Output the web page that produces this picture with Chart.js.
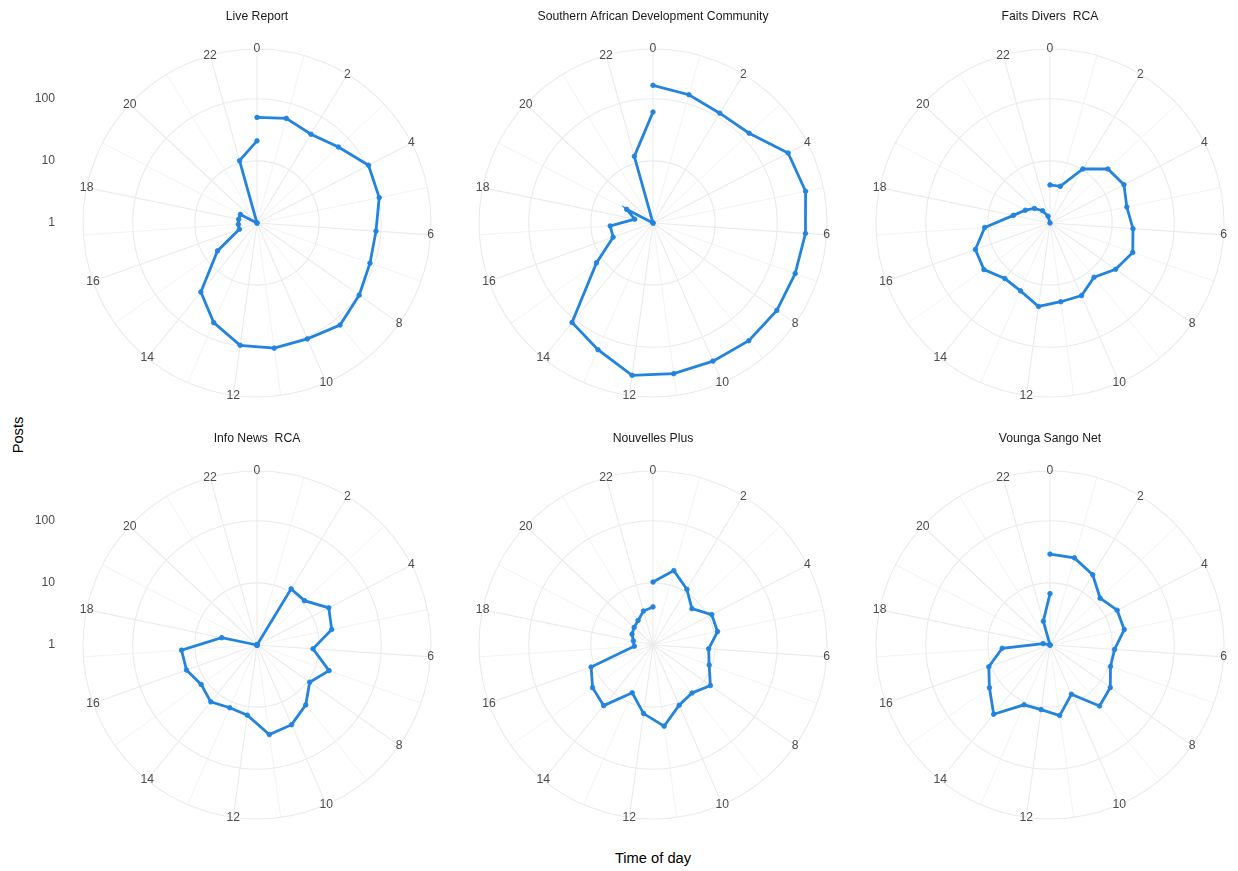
<!DOCTYPE html>
<html>
<head>
<meta charset="utf-8">
<title>Posts by time of day</title>
<script src="https://cdn.jsdelivr.net/npm/chart.js@4.4.1/dist/chart.umd.min.js"></script>
<style>
    html, body { margin: 0; padding: 0; background: #fff; }
    body { width: 1238px; height: 871px; position: relative; overflow: hidden;
           font-family: 'Liberation Sans', Arial, sans-serif; }
    canvas { position: absolute; }
    .axis-title { position: absolute; font-size: 14.7px; color: #000; white-space: nowrap; }
    #y-title { left: 18px; top: 435px; transform: translate(-50%, -50%) rotate(-90deg); }
    #x-title { left: 653px; top: 858px; transform: translate(-50%, -50%); }
</style>
</head>
<body>
<div class="axis-title" id="y-title">Posts</div>
<div class="axis-title" id="x-title">Time of day</div>
<script>
/************************************************************/
/*              POSTS PER HOUR, ONE POLAR PANEL PER PAGE    */
/************************************************************/

// 23 spokes: hours 0..22, hour 23 lands back on the 0 spoke
const HOUR_LABELS = ['0', '1', '2', '3', '4', '5', '6', '7', '8', '9', '10', '11',
                     '12', '13', '14', '15', '16', '17', '18', '19', '20', '21', '22'];
const HOUR_TICKS = ['0', '2', '4', '6', '8', '10', '12', '14', '16', '18', '20', '22'];
const POST_TICKS = [1, 10, 100];

const PANEL_TITLES = [
    'Live Report',
    'Southern African Development Community',
    'Faits Divers  RCA',
    'Info News  RCA',
    'Nouvelles Plus',
    'Vounga Sango Net'
];

// posts for hours 0..23
const LIVE_REPORT    = [50, 56, 47, 62, 105, 102, 83, 85, 103, 131, 108, 108, 97, 56, 27, 6, 2, 2, 2, 2, 1, 1, 11, 21];
const SADC           = [164, 139, 117, 131, 281, 322, 288, 268, 275, 277, 265, 280, 298, 167, 116, 13, 4.8, 4.9, 2, 3, 1, 1, 13, 61];
const FAITS_DIVERS   = [4.1, 4.1, 10.4, 18.8, 21.9, 18.3, 21.8, 25.9, 19.6, 13.3, 18.8, 19, 22.7, 15.5, 14.2, 20, 18.8, 11.3, 4, 2.8, 2.2, 1.7, 1.3, 1];
const INFO_NEWS      = [1, 1, 11.4, 11.1, 20, 16.9, 8, 17, 10.9, 17.5, 25, 28.5, 13.8, 12.6, 15.1, 12.6, 16, 16.5, 3.8, 1, 1, 1, 1, 1];
const NOUVELLES_PLUS = [10.3, 17.5, 11.2, 7.2, 11.6, 11.5, 7.9, 9.1, 13.5, 9.9, 11.4, 20.8, 13, 6.9, 18.1, 15.5, 11.4, 2, 2.1, 2.4, 2.6, 2.9, 3.7, 4.1];
const VOUNGA_SANGO   = [29, 28.6, 21, 12.7, 16.5, 16.6, 11, 10.8, 15.4, 18.4, 7.3, 14, 11.2, 11.2, 27.3, 15.6, 11.1, 5.9, 1.3, 1, 1, 1, 2.5, 6.7];

const SERIES = [LIVE_REPORT, SADC, FAITS_DIVERS, INFO_NEWS, NOUVELLES_PLUS, VOUNGA_SANGO];

const LINE_COLOR = '#2384DE';
const GRID_COLOR = '#EBEBEB';
const TEXT_COLOR = '#4D4D4D';
const FONT = "'Liberation Sans', Arial, sans-serif";
const R_OUTER = 2.8;     // log10(posts) at the outer ring

// panel layout
const COL_X = [257, 653, 1050];
const ROW_Y = [223, 645];
const RADIUS = 175;

Chart.defaults.font.family = FONT;

/* Hour labels sit on the outer ring, post ticks on the left of the first column */
const polarText = {
    id: 'polarText',
    afterDraw(chart, args, opts) {
        const scale = chart.scales.r;
        const ctx = chart.ctx;
        ctx.save();
        ctx.font = '12.2px ' + FONT;
        ctx.fillStyle = TEXT_COLOR;
        ctx.textAlign = 'center';
        ctx.textBaseline = 'middle';
        HOUR_LABELS.forEach((label, i) => {
            if (!HOUR_TICKS.includes(label)) return;
            const pos = scale.getPointPosition(i, scale.drawingArea);
            ctx.fillText(label, pos.x, pos.y);
        });
        if (opts.showPosts) {
            ctx.textAlign = 'right';
            POST_TICKS.forEach(v => {
                const y = scale.yCenter - scale.getDistanceFromCenterForValue(Math.log10(v));
                ctx.fillText(String(v), opts.postsX, y);
            });
        }
        ctx.restore();
    }
};

/* Build one polar panel */
function initPolarChart(idx) {
    const col = idx % 3;
    const row = Math.floor(idx / 3);
    const left = col === 0 ? 0 : COL_X[col] - 198;
    const width = Math.min(COL_X[col] + 198, 1238) - left;
    const top = ROW_Y[row] - 223;
    const height = 422;

    const canvas = document.createElement('canvas');
    canvas.width = width;
    canvas.height = height;
    canvas.style.left = left + 'px';
    canvas.style.top = top + 'px';
    canvas.style.width = width + 'px';
    canvas.style.height = height + 'px';
    document.body.appendChild(canvas);

    const padLeft = COL_X[col] - left - RADIUS;
    const padRight = width - (COL_X[col] - left) - RADIUS;

    return new Chart(canvas, {
        type: 'radar',
        data: {
            labels: HOUR_LABELS,
            datasets: [{
                label: PANEL_TITLES[idx],
                data: SERIES[idx].map(v => Math.log10(v)),
                borderColor: LINE_COLOR,
                backgroundColor: LINE_COLOR,
                borderWidth: 2.8,
                pointRadius: 2.3,
                pointBorderWidth: 0.8,
                pointBackgroundColor: LINE_COLOR,
                pointBorderColor: LINE_COLOR,
                fill: false,
                tension: 0
            }]
        },
        options: {
            responsive: false,
            devicePixelRatio: 1,
            animation: false,
            events: [],
            layout: { padding: { left: padLeft, right: padRight, top: 0, bottom: 24 } },
            plugins: {
                legend: { display: false },
                tooltip: { enabled: false },
                title: {
                    display: true,
                    text: PANEL_TITLES[idx],
                    color: '#1A1A1A',
                    font: { size: 12.2, weight: 'normal', family: FONT },
                    padding: { top: 9, bottom: 24.4 }
                },
                polarText: { showPosts: col === 0, postsX: 55 }
            },
            scales: {
                r: {
                    min: 0,
                    max: R_OUTER,
                    afterBuildTicks: scale => {
                        scale.ticks = POST_TICKS.map(v => ({ value: Math.log10(v) }))
                            .concat([{ value: R_OUTER }]);
                    },
                    ticks: { display: false },
                    pointLabels: { display: false },
                    grid: { circular: true, color: GRID_COLOR, lineWidth: 1.1 },
                    angleLines: {
                        color: GRID_COLOR,
                        lineWidth: ctx => (ctx.index % 2 === 0 ? 1.1 : 0.6)
                    }
                }
            }
        },
        plugins: [polarText]
    });
}

/* Instantiate the six panels */
const charts = PANEL_TITLES.map((t, i) => initPolarChart(i));
</script>
</body>
</html>
